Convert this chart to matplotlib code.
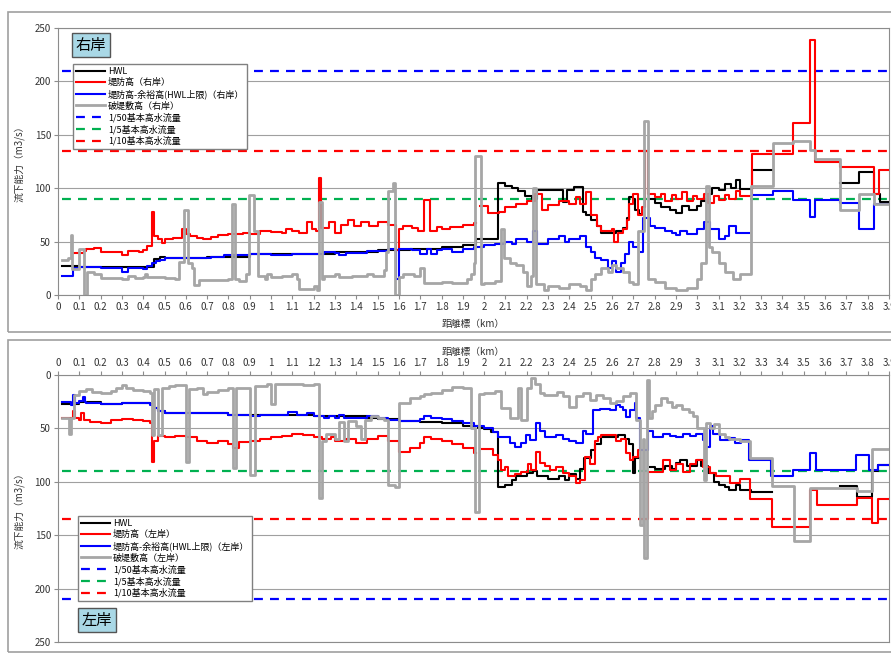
#!/usr/bin/env python
# -*- coding:utf-8 -*-

import numpy as np
from matplotlib import pyplot as plt
from matplotlib.patches import Rectangle

plt.rcParams['font.family'] = ['Noto Sans CJK JP', 'DejaVu Sans']

nan = np.nan

# ---- 右岸 (right bank) ----
r_hwl_x = [0.02, 0.10, 0.45, 0.48, 0.50, 0.70, 0.90, 1.10, 1.30, 1.50,
           1.65, 1.80, 1.90, 1.96, 2.065, 2.10, 2.13, 2.16, 2.19, 2.224,
           2.247, 2.30, 2.372, 2.388, 2.42, 2.466, 2.48, 2.50, 2.53, 2.55,
           2.62, 2.65, 2.67, 2.68, 2.70, 2.71, 2.725, 2.74, 2.78, 2.80,
           2.83, 2.87, 2.90, 2.93, 2.96, 3.00, 3.02, 3.05, 3.07, 3.10,
           3.13, 3.16, 3.18, 3.20, 3.257, 3.355, 3.671, 3.757, 3.828, 3.86,
           3.90]
r_hwl_y = [27, 26, 34, 36, 35, 36, 38, 38, 40, 42,
           43, 45, 47, 52, 105, 102, 100, 97, 93, 90,
           98, 98, 87, 98, 101, 78, 75, 70, 65, 58,
           60, 63, 72, 92, 90, 80, 76, nan, 90, 86,
           82, 80, 77, 83, 80, 83, 88, 95, 100, 98,
           104, 100, 108, 99, 117, nan, 105, 115, 95, 87,
           87]

r_levee_x = [0.07, 0.12, 0.13, 0.17, 0.20, 0.30, 0.33, 0.38, 0.40, 0.42,
             0.44, 0.45, 0.47, 0.49, 0.50, 0.54, 0.58, 0.60, 0.62, 0.65,
             0.68, 0.72, 0.75, 0.80, 0.87, 0.90, 0.95, 1.00, 1.05, 1.07,
             1.10, 1.13, 1.17, 1.19, 1.21, 1.225, 1.235, 1.27, 1.30, 1.33,
             1.36, 1.39, 1.42, 1.46, 1.50, 1.55, 1.585, 1.60, 1.62, 1.66,
             1.69, 1.72, 1.745, 1.78, 1.80, 1.84, 1.90, 1.95, 1.96, 1.98,
             2.02, 2.07, 2.10, 2.15, 2.20, 2.24, 2.27, 2.30, 2.35, 2.40,
             2.43, 2.45, 2.48, 2.50, 2.53, 2.55, 2.60, 2.61, 2.63, 2.65,
             2.67, 2.68, 2.70, 2.72, 2.74, 2.755, 2.77, 2.80, 2.83, 2.85,
             2.88, 2.90, 2.93, 2.95, 2.98, 3.00, 3.03, 3.05, 3.08, 3.10,
             3.13, 3.15, 3.18, 3.20, 3.257, 3.45, 3.527, 3.554, 3.671, 3.828,
             3.855, 3.90]
r_levee_y = [39, 41, 43, 44, 40, 37, 41, 40, 42, 46,
             78, 55, 52, 49, 52, 53, 62, 57, 55, 53,
             52, 54, 56, 57, 58, 57, 60, 59, 58, 62,
             60, 58, 68, 62, 60, 110, 63, 68, 58, 66,
             70, 65, 68, 65, 68, 66, 42, 62, 65, 63,
             60, 89, 60, 64, 62, 64, 66, 67, nan, 83,
             77, 78, 82, 85, 88, 95, 80, 84, 88, 85,
             92, 85, 96, 75, 65, 60, 62, 50, 58, 62,
             70, 85, 95, 75, 82, 135, 95, 92, 95, 88,
             94, 90, 96, 88, 93, 90, 95, 86, 93, 89,
             94, 90, 97, 93, 132, 161, 239, 125, 120, 95,
             117, 117]

r_free_x = [0.02, 0.07, 0.10, 0.20, 0.30, 0.33, 0.40, 0.42, 0.44, 0.46,
            0.48, 0.50, 0.60, 0.65, 0.72, 0.78, 0.90, 1.00, 1.10, 1.20,
            1.25, 1.30, 1.32, 1.35, 1.45, 1.55, 1.585, 1.60, 1.66, 1.70,
            1.73, 1.75, 1.78, 1.80, 1.85, 1.90, 1.95, 2.00, 2.05, 2.10,
            2.13, 2.15, 2.20, 2.23, 2.25, 2.30, 2.35, 2.38, 2.40, 2.45,
            2.48, 2.50, 2.52, 2.55, 2.58, 2.60, 2.62, 2.64, 2.66, 2.68,
            2.70, 2.72, 2.735, 2.745, 2.78, 2.80, 2.85, 2.88, 2.90, 2.92,
            2.95, 3.00, 3.03, 3.06, 3.10, 3.13, 3.15, 3.18, 3.20, 3.245,
            3.257, 3.355, 3.45, 3.53, 3.555, 3.671, 3.757, 3.828, 3.90]
r_free_y = [18, 25, 26, 25, 22, 25, 24, 27, 30, 32,
            33, 35, 35, 35, 36, 37, 38, 37, 38, 38,
            40, 39, 37, 39, 41, 43, 15, 43, 42, 38,
            43, 38, 42, 43, 40, 43, 45, 47, 48, 50,
            48, 52, 50, 60, 48, 52, 55, 50, 52, 55,
            45, 40, 35, 33, 25, 32, 22, 30, 38, 50,
            45, nan, 40, 72, 65, 63, 60, 58, 56, 60,
            57, 62, 68, 62, 52, 55, 65, 58, 58, nan,
            94, 97, 89, 73, 89, 86, 62, 85, 85]

r_breach_x = [0.02, 0.045, 0.06, 0.066, 0.10, 0.12, 0.135, 0.17, 0.20, 0.30,
              0.33, 0.36, 0.40, 0.41, 0.42, 0.50, 0.55, 0.57, 0.59, 0.61,
              0.63, 0.64, 0.66, 0.80, 0.815, 0.83, 0.85, 0.88, 0.895, 0.92,
              0.94, 0.97, 0.98, 1.00, 1.05, 1.10, 1.12, 1.13, 1.20, 1.215,
              1.225, 1.24, 1.25, 1.30, 1.32, 1.38, 1.45, 1.48, 1.53, 1.54,
              1.55, 1.57, 1.58, 1.60, 1.62, 1.67, 1.70, 1.72, 1.80, 1.85,
              1.92, 1.94, 1.95, 1.956, 1.983, 2.00, 2.05, 2.08, 2.095, 2.12,
              2.15, 2.18, 2.20, 2.22, 2.23, 2.245, 2.28, 2.30, 2.35, 2.40,
              2.45, 2.48, 2.50, 2.52, 2.55, 2.58, 2.60, 2.62, 2.65, 2.68,
              2.70, 2.72, 2.75, 2.77, 2.80, 2.85, 2.90, 2.95, 3.00, 3.02,
              3.04, 3.055, 3.07, 3.10, 3.13, 3.17, 3.20, 3.25, 3.355, 3.45,
              3.527, 3.554, 3.671, 3.757, 3.828, 3.90]
r_breach_y = [33, 35, 56, 24, 43, 0, 22, 20, 16, 15,
              18, 16, 17, 20, 17, 16, 15, 31, 80, 30,
              25, 9, 14, 15, 85, 15, 13, 20, 94, 60,
              18, 15, 20, 17, 18, 20, 15, 6, 8, 5,
              87, 15, 18, 20, 17, 18, 20, 18, 23, 40,
              97, 105, 0, 17, 20, 18, 25, 11, 12, 11,
              15, 20, 30, 130, 10, 11, 13, 62, 35, 30,
              28, 22, 8, 18, 100, 10, 5, 8, 7, 10,
              8, 5, 15, 20, 25, 22, 28, 25, 22, 12,
              10, 60, 163, 15, 12, 7, 5, 7, 15, 30,
              102, 45, 40, 30, 22, 15, 20, 102, 142, 144,
              136, 127, 80, 95, 85, 85]

# ---- 左岸 (left bank) ----
l_hwl_x = [0.02, 0.10, 0.20, 0.30, 0.43, 0.45, 0.47, 0.50, 0.80, 1.00,
           1.20, 1.45, 1.50, 1.60, 1.70, 1.80, 1.90, 1.97, 2.00, 2.03,
           2.065, 2.10, 2.13, 2.15, 2.20, 2.23, 2.25, 2.30, 2.35, 2.38,
           2.40, 2.43, 2.45, 2.47, 2.50, 2.52, 2.55, 2.60, 2.63, 2.66,
           2.68, 2.70, 2.71, 2.73, 2.78, 2.80, 2.85, 2.88, 2.90, 2.92,
           2.95, 3.00, 3.02, 3.05, 3.08, 3.10, 3.13, 3.15, 3.18, 3.20,
           3.25, 3.35, 3.671, 3.748, 3.818, 3.85, 3.90]
l_hwl_y = [27, 25, 27, 26, 27, 31, 34, 36, 37, 37,
           38, 40, 41, 43, 44, 45, 48, 50, 51, 53,
           105, 103, 98, 95, 92, 90, 95, 97, 95, 98,
           93, 97, 88, 78, 70, 65, 58, 58, 56, 60,
           65, 92, 78, nan, 86, 88, 85, 88, 82, 80,
           85, 80, 85, 92, 100, 103, 105, 108, 103, 108,
           110, nan, 104, 114, 90, 84, 84]

l_levee_x = [0.02, 0.07, 0.08, 0.10, 0.11, 0.12, 0.15, 0.20, 0.25, 0.30,
             0.35, 0.40, 0.43, 0.44, 0.45, 0.47, 0.50, 0.55, 0.60, 0.65,
             0.70, 0.75, 0.80, 0.82, 0.85, 0.90, 0.95, 1.00, 1.05, 1.10,
             1.15, 1.20, 1.24, 1.28, 1.30, 1.35, 1.40, 1.45, 1.50, 1.55,
             1.60, 1.65, 1.70, 1.72, 1.75, 1.80, 1.85, 1.90, 1.95, 1.96,
             1.99, 2.04, 2.066, 2.081, 2.097, 2.113, 2.144, 2.175, 2.206, 2.222,
             2.245, 2.26, 2.284, 2.308, 2.339, 2.37, 2.40, 2.433, 2.448, 2.472,
             2.495, 2.519, 2.534, 2.55, 2.62, 2.644, 2.667, 2.683, 2.698, 2.722,
             2.745, 2.765, 2.77, 2.839, 2.87, 2.90, 2.933, 2.964, 2.995, 3.027,
             3.058, 3.09, 3.152, 3.20, 3.249, 3.35, 3.53, 3.56, 3.748, 3.818,
             3.85, 3.90]
l_levee_y = [40, 34, 40, 42, 36, 42, 44, 45, 42, 41,
             42, 43, 45, 81, 62, 57, 58, 57, 58, 62,
             64, 62, 65, 68, 63, 62, 60, 58, 57, 55,
             56, 58, 60, 58, 62, 60, 64, 60, 57, 62,
             72, 68, 64, 58, 60, 62, 65, 68, 73, nan,
             69, 75, 80, 89, 86, 95, 93, 91, 83, 89,
             72, 82, 85, 89, 86, 92, 95, 101, 98, 77,
             83, 62, 58, 56, 62, 60, 73, 80, 77, 70,
             nan, 135, 91, 80, 89, 83, 91, 83, 80, 86,
             92, 95, 101, 97, 116, 142, 108, 122, 115, 139,
             116, 116]

l_free_x = [0.02, 0.06, 0.07, 0.08, 0.10, 0.115, 0.125, 0.13, 0.20, 0.30,
            0.43, 0.45, 0.47, 0.50, 0.80, 0.90, 0.95, 1.08, 1.12, 1.17,
            1.20, 1.25, 1.27, 1.30, 1.32, 1.34, 1.45, 1.50, 1.55, 1.60,
            1.70, 1.72, 1.75, 1.80, 1.85, 1.90, 1.95, 2.00, 2.04, 2.066,
            2.12, 2.144, 2.175, 2.198, 2.214, 2.245, 2.26, 2.284, 2.339, 2.37,
            2.40, 2.433, 2.464, 2.48, 2.51, 2.542, 2.589, 2.62, 2.636, 2.652,
            2.667, 2.683, 2.706, 2.714, 2.73, 2.769, 2.792, 2.839, 2.87, 2.90,
            2.933, 2.964, 2.995, 3.027, 3.042, 3.058, 3.073, 3.105, 3.152, 3.175,
            3.206, 3.245, 3.347, 3.448, 3.527, 3.558, 3.745, 3.808, 3.847, 3.90]
l_free_y = [25, 28, 19, 26, 24, 21, 25, 26, 27, 26,
            28, 31, 34, 36, 37, 38, 37, 35, 37, 36,
            38, 40, 38, 40, 37, 40, 38, 40, 42, 43,
            41, 38, 40, 41, 43, 45, 48, 50, 53, 58,
            64, 67, 64, 56, 61, 45, 52, 58, 56, 60,
            62, 64, 52, 55, 33, 32, 33, 28, 30, 33,
            39, 33, 26, 40, 70, 52, 58, 55, 57, 58,
            55, 57, 55, 61, 67, 48, 55, 61, 59, 64,
            61, 80, 95, 89, 73, 89, 75, 89, 84, 84]

l_breach_x = [0.02, 0.05, 0.06, 0.075, 0.10, 0.13, 0.16, 0.20, 0.25, 0.27,
              0.30, 0.32, 0.35, 0.40, 0.43, 0.44, 0.45, 0.47, 0.49, 0.52,
              0.55, 0.60, 0.615, 0.65, 0.68, 0.70, 0.75, 0.80, 0.82, 0.835,
              0.90, 0.925, 0.95, 0.98, 1.00, 1.02, 1.10, 1.15, 1.20, 1.225,
              1.24, 1.26, 1.30, 1.32, 1.34, 1.36, 1.40, 1.42, 1.44, 1.47,
              1.50, 1.53, 1.55, 1.58, 1.60, 1.65, 1.70, 1.72, 1.75, 1.80,
              1.85, 1.90, 1.94, 1.955, 1.975, 2.00, 2.05, 2.08, 2.12, 2.16,
              2.175, 2.20, 2.22, 2.24, 2.26, 2.28, 2.34, 2.37, 2.40, 2.433,
              2.464, 2.495, 2.526, 2.558, 2.589, 2.62, 2.652, 2.683, 2.714, 2.73,
              2.745, 2.75, 2.765, 2.775, 2.79, 2.80, 2.83, 2.86, 2.88, 2.90,
              2.93, 2.96, 2.98, 3.00, 3.03, 3.04, 3.06, 3.08, 3.10, 3.13,
              3.15, 3.20, 3.249, 3.35, 3.452, 3.53, 3.748, 3.818, 3.90]
l_breach_y = [40, 55, 40, 19, 15, 13, 16, 17, 15, 12,
              9, 12, 14, 15, 17, 56, 13, 56, 12, 10,
              9, 81, 13, 12, 18, 16, 14, 12, 87, 12,
              94, 10, 10, 8, 27, 8, 8, 9, 8, 115,
              62, 55, 60, 44, 62, 43, 48, 60, 42, 38,
              40, 42, 103, 105, 26, 22, 20, 18, 17, 14,
              11, 12, 50, 128, 18, 17, 15, 31, 40, 12,
              42, 12, 3, 8, 17, 19, 16, 20, 30, 20,
              17, 23, 19, 22, 26, 24, 20, 17, 42, 140,
              60, 171, 5, 40, 34, 28, 22, 25, 30, 28,
              32, 35, 38, 50, 98, 45, 50, 46, 55, 58,
              60, 62, 78, 104, 155, 106, 109, 69, 69]

# design flows (m3/s)
flow_names = ['1/50基本高水流量', '1/5基本高水流量', '1/10基本高水流量']
flow_values = [210, 90, 135]
flow_colors = ['#0000ff', '#00b050', '#ff0000']

x_ticks = np.round(np.arange(0, 3.91, 0.1), 1)
y_ticks = [0, 50, 100, 150, 200, 250]

W, H = 891, 654
GRAY = '#a6a6a6'
AXIS = '#8c8c8c'


def draw_bank(ax, bank, hwl, levee, free, breach):
    """  """
    ax.step(hwl[0], hwl[1], where='post', color='black', lw=1.5,
            label='HWL', zorder=3)
    ax.step(levee[0], levee[1], where='post', color='#ff0000', lw=1.5,
            label='堤防高（{}）'.format(bank), zorder=4)
    ax.step(free[0], free[1], where='post', color='#0000ff', lw=1.5,
            label='堤防高-余裕高(HWL上限)（{}）'.format(bank), zorder=5)
    ax.step(breach[0], breach[1], where='post', color=GRAY, lw=2.0,
            label='破堤敷高（{}）'.format(bank), zorder=6)
    for name, val, col in zip(flow_names, flow_values, flow_colors):
        ax.axhline(val, xmin=0.005, color=col, lw=1.6, dashes=(4, 3.2),
                   label=name, zorder=2)

    ax.set_xlim(0, 3.9)
    ax.set_xticks(x_ticks)
    ax.set_xticklabels(['{:g}'.format(t) for t in x_ticks])
    ax.set_yticks(y_ticks)
    ax.yaxis.grid(True, color='#a0a0a0', lw=0.8)
    ax.set_axisbelow(True)
    ax.tick_params(labelsize=7, length=3, color=AXIS, labelcolor='#333333',
                   pad=2)
    for sp in ax.spines.values():
        sp.set_color(AXIS)
    ax.set_ylabel('流下能力（m3/s）', fontsize=7, color='#333333')
    ax.yaxis.set_label_coords(-0.04, 0.5)
    ax.set_xlabel('距離標（km）', fontsize=7, color='#333333')


def main():
    fig = plt.figure(figsize=(W / 100, H / 100), dpi=100)

    # chart area frames
    fig.add_artist(Rectangle((8 / W, (H - 332) / H), 1.0, 320 / H,
                             transform=fig.transFigure, fill=False,
                             edgecolor='#a0a0a0', lw=1.2))
    fig.add_artist(Rectangle((8 / W, 2 / H), 1.0, 312 / H,
                             transform=fig.transFigure, fill=False,
                             edgecolor='#a0a0a0', lw=1.2))

    ax_r = fig.add_axes([58 / W, (H - 295) / H, 831 / W, 267 / H])
    ax_l = fig.add_axes([58 / W, (H - 642) / H, 831 / W, 267 / H])

    draw_bank(ax_r, '右岸', (r_hwl_x, r_hwl_y), (r_levee_x, r_levee_y),
              (r_free_x, r_free_y), (r_breach_x, r_breach_y))
    ax_r.set_ylim(0, 250)
    ax_r.xaxis.set_label_coords(0.5, -0.09)

    draw_bank(ax_l, '左岸', (l_hwl_x, l_hwl_y), (l_levee_x, l_levee_y),
              (l_free_x, l_free_y), (l_breach_x, l_breach_y))
    ax_l.set_ylim(250, 0)
    ax_l.xaxis.tick_top()
    ax_l.xaxis.set_label_position('top')
    ax_l.xaxis.set_label_coords(0.5, 1.075)

    leg_kw = dict(loc='upper left', fontsize=6.5, frameon=True,
                  fancybox=False, edgecolor='#808080', framealpha=1,
                  handlelength=3.3, handletextpad=0.3, labelspacing=0.25,
                  borderaxespad=0, borderpad=0.3)
    leg = ax_r.legend(bbox_to_anchor=(0.018, 0.865), **leg_kw)
    leg.set_zorder(10)
    leg = ax_l.legend(bbox_to_anchor=(0.024, 0.472), **leg_kw)
    leg.set_zorder(10)

    box = dict(boxstyle='square,pad=0.25', facecolor='#a9d8e6',
               edgecolor='#555555', lw=1.0)
    ax_r.text(0.040, 0.936, '右岸', transform=ax_r.transAxes, fontsize=11,
              ha='center', va='center', bbox=box, zorder=11)
    ax_l.text(0.047, 0.082, '左岸', transform=ax_l.transAxes, fontsize=11,
              ha='center', va='center', bbox=box, zorder=11)

    plt.savefig('out.png', dpi=100)


if __name__ == '__main__':
    main()
